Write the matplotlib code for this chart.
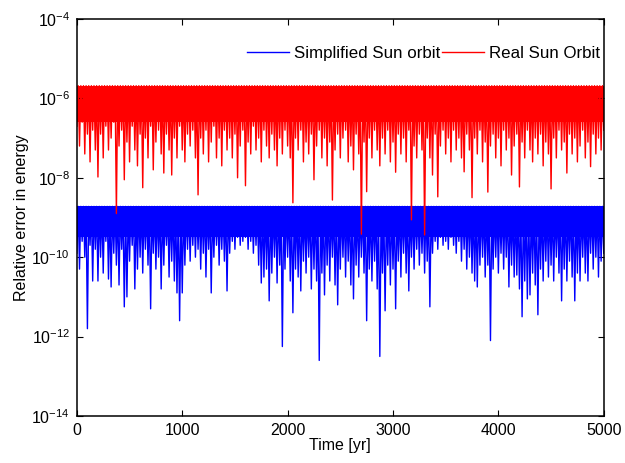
import numpy as np
import matplotlib
matplotlib.use("Agg")
import matplotlib.pyplot as plt

plt.rcParams['font.family'] = ['Liberation Sans', 'DejaVu Sans']
plt.rcParams['mathtext.fontset'] = 'custom'
plt.rcParams['mathtext.rm'] = 'Liberation Sans'
plt.rcParams['mathtext.it'] = 'Liberation Sans'
plt.rcParams['mathtext.default'] = 'regular'

# sample times of the dips (every 25 yr)
t_dip = np.arange(0, 5001, 25)

# band top levels and the bottom of the solid core (log10 of relative error)
blue_top = -8.72
blue_core = -9.5
red_top = -5.68
red_core = -6.6

# dip levels (log10 of relative error)
blue_dip = [
    -9.9, -10.3, -9.6, -10.0, -11.8, -9.7, -10.6, -9.8, -10.6, -10.0,
    -10.4, -9.6, -10.55, -10.75, -9.9, -10.2, -10.7, -9.8, -11.25, -11.0,
    -10.1, -9.7, -10.8, -10.3, -10.0, -10.4, -9.8, -10.2, -11.3, -9.9,
    -10.3, -10.0, -10.8, -10.2, -9.7, -10.5, -10.1, -10.6, -10.9, -11.6,
    -10.9, -10.2, -9.8, -10.1, -9.7, -10.0, -9.8, -10.3, -9.9, -10.5,
    -9.8, -10.9, -10.0, -9.7, -10.2, -9.8, -10.1, -10.85, -9.9, -9.6,
    -9.8, -9.5, -9.7, -9.6, -9.5, -9.8, -9.6, -9.9, -9.7, -10.2,
    -10.65, -10.5, -10.3, -11.1, -10.4, -10.0, -10.65, -10.2, -12.25, -10.3,
    -10.0, -10.6, -11.4, -10.3, -10.5, -10.85, -10.1, -10.4, -10.0, -10.8,
    -10.3, -10.6, -12.6, -10.4, -10.95, -10.2, -10.6, -10.0, -10.7, -11.2,
    -10.3, -10.0, -10.5, -10.1, -10.7, -11.05, -10.2, -10.5, -10.0, -10.4,
    -11.6, -10.3, -10.6, -10.1, -10.8, -12.5, -10.4, -11.35, -10.2, -10.7,
    -10.3, -11.3, -10.1, -10.5, -9.9, -10.4, -10.85, -10.0, -10.3, -9.8,
    -10.2, -9.9, -10.4, -10.1, -11.25, -9.9, -9.6, -9.8, -9.5, -9.7,
    -9.6, -9.8, -9.5, -9.7, -9.9, -9.6, -10.1, -9.8, -10.3, -10.0,
    -10.4, -10.6, -10.75, -10.2, -10.0, -10.5, -10.2, -12.1, -10.3, -10.0,
    -10.4, -9.9, -10.3, -10.0, -10.75, -10.2, -10.5, -10.45, -10.8, -11.5,
    -10.6, -11.05, -10.95, -10.4, -10.7, -11.45, -10.3, -10.6, -10.1, -10.5,
    -10.2, -10.6, -10.0, -10.4, -11.1, -10.3, -10.6, -10.1, -10.5, -11.1,
    -10.4, -10.6, -10.0, -10.4, -10.6, -9.9, -10.3, -10.0, -10.5, -10.1,
    -9.9,
]

red_dip = [
    -6.7, -7.2, -6.6, -7.4, -6.9, -7.6, -6.8, -7.3, -7.98, -6.9,
    -7.5, -6.7, -7.3, -7.0, -6.6, -8.9, -7.2, -6.8, -8.05, -7.1,
    -7.6, -6.7, -7.3, -7.7, -6.9, -8.25, -7.0, -7.5, -6.7, -7.8,
    -7.1, -6.8, -7.4, -7.88, -6.9, -7.3, -7.93, -7.0, -7.5, -6.7,
    -7.3, -7.6, -6.9, -7.2, -6.8, -7.5, -8.43, -7.0, -7.4, -6.8,
    -7.6, -7.1, -6.7, -7.5, -7.0, -7.7, -6.8, -7.3, -7.0, -7.5,
    -6.9, -8.0, -7.2, -6.8, -8.2, -7.1, -7.4, -6.7, -7.3, -7.0,
    -7.6, -6.8, -7.2, -7.5, -6.9, -7.3, -7.7, -7.0, -7.4, -6.8,
    -7.2, -7.5, -8.63, -7.0, -7.3, -6.8, -7.6, -7.1, -7.4, -6.9,
    -8.05, -7.2, -6.8, -7.5, -7.0, -7.7, -7.1, -8.56, -7.3, -6.9,
    -7.5, -7.0, -6.8, -7.6, -7.2, -7.8, -6.9, -7.4, -9.42, -7.1,
    -8.35, -7.0, -7.5, -6.8, -7.3, -7.7, -7.0, -7.4, -6.8, -7.6,
    -7.1, -7.86, -6.9, -7.4, -7.0, -7.6, -6.8, -9.06, -7.2, -7.5,
    -6.9, -7.3, -9.44, -7.0, -7.5, -7.93, -6.9, -8.48, -7.2, -6.8,
    -7.4, -7.0, -7.6, -6.8, -7.3, -7.0, -7.5, -7.85, -6.9, -7.3,
    -8.5, -7.0, -7.4, -6.8, -7.6, -7.1, -8.36, -7.2, -6.9, -7.5,
    -7.0, -7.7, -6.8, -7.3, -7.0, -7.93, -7.2, -6.9, -8.23, -7.1,
    -7.5, -6.8, -7.3, -7.6, -7.0, -7.4, -6.9, -7.7, -7.1, -7.4,
    -8.28, -7.0, -7.5, -6.8, -7.3, -7.1, -7.88, -6.9, -7.4, -7.0,
    -7.6, -7.2, -6.8, -7.5, -7.1, -7.72, -6.9, -7.4, -7.0, -7.3,
    -6.8,
]


def series(dips, top):
    # alternate band top and dip, one top between each pair of dips
    t = np.empty(2 * len(dips) - 1)
    y = np.empty(2 * len(dips) - 1)
    t[0::2] = t_dip
    t[1::2] = (t_dip[:-1] + t_dip[1:]) / 2
    y[0::2] = dips
    y[1::2] = top
    return t, 10.0 ** y


fig = plt.figure(figsize=(6.25, 4.63), dpi=100)
ax = fig.add_axes([0.123, 0.1015, 0.843, 0.8575])

tb, yb = series(blue_dip, blue_top)
tr, yr = series(red_dip, red_top)

ax.fill_between([0, 5000], 10.0 ** blue_core, 10.0 ** blue_top,
                color='#0000ff', lw=0)
ax.plot(tb, yb, color='#0000ff', lw=1.0, label='Simplified Sun orbit')
ax.fill_between([0, 5000], 10.0 ** red_core, 10.0 ** red_top,
                color='#ff0000', lw=0)
ax.plot(tr, yr, color='#ff0000', lw=1.0, label='Real Sun Orbit')

ax.set_yscale('log')
ax.set_xlim(0, 5000)
ax.set_ylim(1e-14, 1e-4)
ax.set_xticks([0, 1000, 2000, 3000, 4000, 5000])
ax.set_yticks([1e-14, 1e-12, 1e-10, 1e-8, 1e-6, 1e-4])
ax.minorticks_off()
ax.tick_params(direction='in', top=True, right=True, labelsize=11.5,
               length=4, width=0.8, pad=5)
for s in ax.spines.values():
    s.set_linewidth(1.1)

ax.set_xlabel('Time [yr]', fontsize=11.5, labelpad=0)
ax.set_ylabel('Relative error in energy', fontsize=11.5, labelpad=2)

ax.legend(loc='center right', bbox_to_anchor=(1.0, 0.914), ncol=2,
          frameon=False, fontsize=12.2, handlelength=2.5,
          handletextpad=0.3, columnspacing=0.1, borderpad=0.2,
          borderaxespad=0)

fig.savefig('out.png', dpi=100)
